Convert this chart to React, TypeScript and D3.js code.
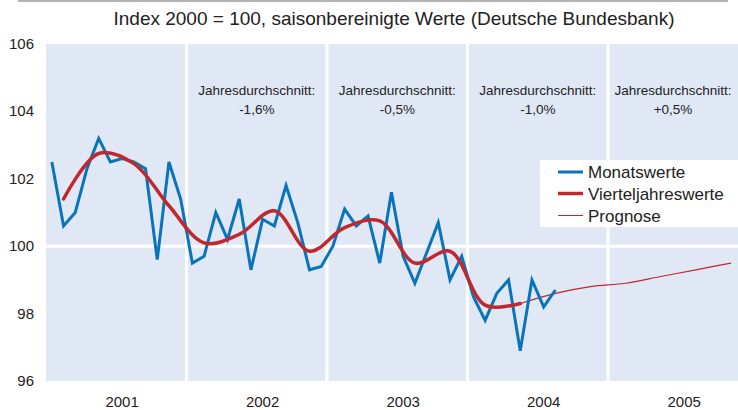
import React from 'react';
import * as d3 from 'd3';

// monthly index values, Jan 2001 .. Aug 2004
const monatswerte = [
  102.5, 100.6, 101.0, 102.3, 103.2, 102.5, 102.6, 102.5, 102.3, 99.6, 102.5, 101.4,
  99.5, 99.7, 101.0, 100.2, 101.4, 99.3, 100.8, 100.6, 101.8, 100.7, 99.3, 99.4,
  100.0, 101.1, 100.6, 100.9, 99.5, 101.6, 99.7, 98.9, 99.8, 100.7, 99.0, 99.7,
  98.5, 97.8, 98.6, 99.0, 96.9, 99.0, 98.2, 98.7,
];

// quarterly values, plotted at the middle month of each quarter (Q1 2001 .. Q2 2004)
const vierteljahreswerte = [
  101.4, 102.75, 102.45, 101.2, 100.1, 100.35, 101.05, 99.85, 100.55, 100.75, 99.5, 99.85, 98.25, 98.3,
];

// forecast, Q2 2004 .. Q4 2005
const prognose = [98.3, 98.6, 98.8, 98.9, 99.1, 99.3, 99.5];

const jahre = ['2001', '2002', '2003', '2004', '2005'];
const jahresdurchschnitt = ['', '-1,6%', '-0,5%', '-1,0%', '+0,5%'];
const yTicks = [96, 98, 100, 102, 104, 106];

const W = 738;
const H = 410;
const font = 'Arial, "Liberation Sans", sans-serif';

const App = () => {
  const x = d3.scaleLinear().domain([-0.5, 59.5]).range([46, 748.6]);
  const y = d3.scaleLinear().domain([96, 106]).range([381, 44]);

  const blueLine = d3
    .line<number>()
    .x((d, i) => x(i))
    .y(d => y(d));

  const redLine = d3
    .line<number>()
    .x((d, i) => x(1 + i * 3))
    .y(d => y(d))
    .curve(d3.curveCatmullRom.alpha(0.5));

  const progLine = d3
    .line<number>()
    .x((d, i) => x(40 + i * 3))
    .y(d => y(d))
    .curve(d3.curveMonotoneX);

  return (
    <svg
      width={W}
      height={H}
      style={{ position: 'absolute', left: 0, top: 0, fontFamily: font }}
    >
      <defs>
        <clipPath id="plot">
          <rect x={46} y={44} width={W - 46} height={337} />
        </clipPath>
      </defs>

      {/* top rule */}
      <line x1={18} x2={728} y1={1} y2={1} stroke="#9a9a9a" strokeWidth={1.5} />

      <text x={394} y={25} textAnchor="middle" fontSize={19} fill="#222">
        Index 2000 = 100, saisonbereinigte Werte (Deutsche Bundesbank)
      </text>

      <g clipPath="url(#plot)">
        {jahre.map((j, k) => {
          const x0 = x(k * 12 - 0.5);
          const x1 = x(k * 12 + 11.5);
          return <rect key={j} x={x0} y={44} width={x1 - x0} height={337} fill="#e1e8f5" />;
        })}
        {jahre.slice(1).map((j, k) => (
          <line
            key={j}
            x1={x((k + 1) * 12 - 0.5)}
            x2={x((k + 1) * 12 - 0.5)}
            y1={44}
            y2={381}
            stroke="#fff"
            strokeWidth={3}
          />
        ))}
        <line x1={46} x2={W} y1={y(100)} y2={y(100)} stroke="#fff" strokeWidth={3} />
      </g>

      {jahre.map((j, k) => {
        if (!jahresdurchschnitt[k]) return null;
        const x0 = x(k * 12 - 0.5);
        const x1 = Math.min(x(k * 12 + 11.5), W);
        const cx = (x0 + x1) / 2;
        return (
          <g key={j} fontSize={13.5} fill="#222" textAnchor="middle">
            <text x={cx} y={95}>Jahresdurchschnitt:</text>
            <text x={cx} y={114}>{jahresdurchschnitt[k]}</text>
          </g>
        );
      })}

      {yTicks.map(t => (
        <text key={t} x={34} y={y(t) + 5} textAnchor="end" fontSize={15} fill="#222">
          {t}
        </text>
      ))}

      {jahre.map((j, k) => (
        <text key={j} x={x(k * 12 + 6)} y={407} textAnchor="middle" fontSize={15} fill="#222">
          {j}
        </text>
      ))}

      <g clipPath="url(#plot)">
        <path d={progLine(prognose) || ''} fill="none" stroke="#c1272d" strokeWidth={1.2} />
        <path
          d={blueLine(monatswerte) || ''}
          fill="none"
          stroke="#0a74bb"
          strokeWidth={3}
          strokeLinejoin="miter"
        />
        <path
          d={redLine(vierteljahreswerte) || ''}
          fill="none"
          stroke="#c1272d"
          strokeWidth={3.5}
          strokeLinecap="round"
        />
      </g>

      {/* legend */}
      <g>
        <rect x={540} y={160} width={W - 540} height={67} fill="#fff" />
        <line x1={558} x2={583} y1={172} y2={172} stroke="#0a74bb" strokeWidth={3} />
        <text x={588} y={178} fontSize={17} fill="#222">Monatswerte</text>
        <line x1={558} x2={583} y1={193.5} y2={193.5} stroke="#c1272d" strokeWidth={3.5} />
        <text x={588} y={199.5} fontSize={17} fill="#222">Vierteljahreswerte</text>
        <line x1={558} x2={583} y1={215.5} y2={215.5} stroke="#c1272d" strokeWidth={1} />
        <text x={588} y={221.5} fontSize={17} fill="#222">Prognose</text>
      </g>
    </svg>
  );
};

export default App;
